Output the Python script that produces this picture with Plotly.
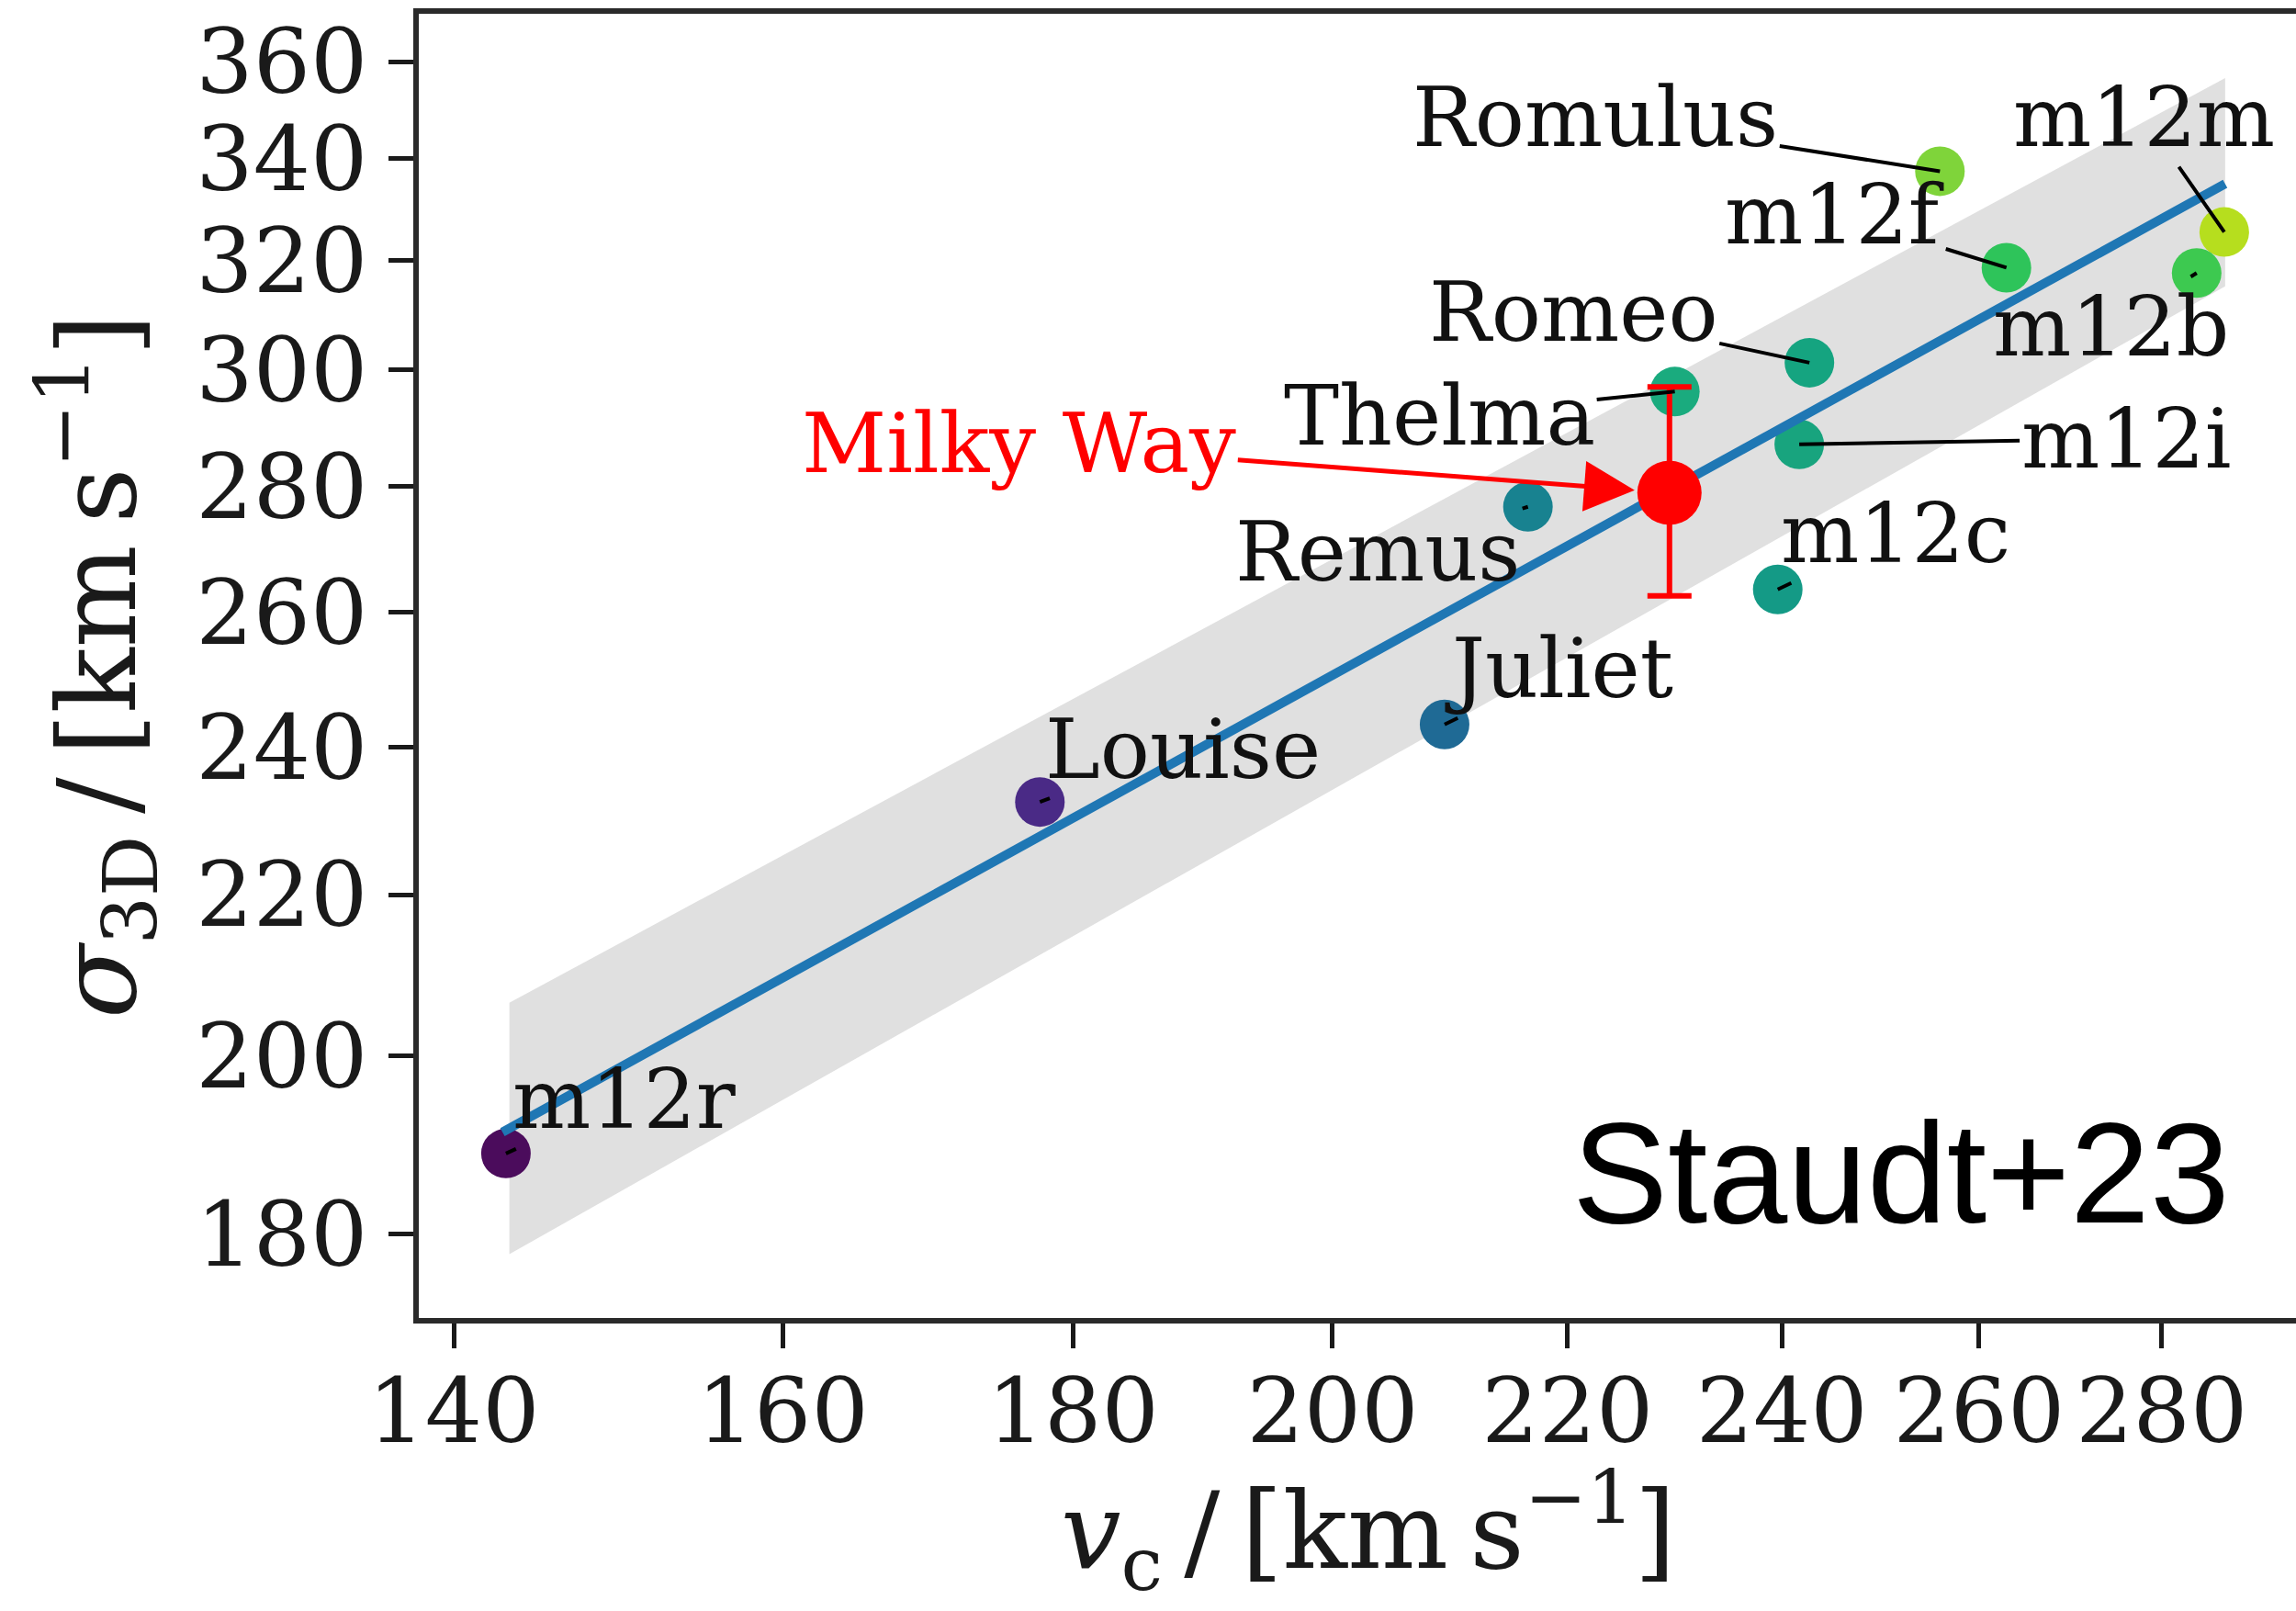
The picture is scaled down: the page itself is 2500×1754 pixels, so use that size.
import math
import plotly.graph_objects as go

# ---------------- data ----------------
names = ["m12r", "Louise", "Juliet", "Remus", "Thelma", "Romeo", "m12i", "m12c",
         "Romulus", "m12f", "m12m", "m12b"]
vc = [143.0, 177.6, 209.3, 216.5, 229.8, 242.7, 241.7, 239.6, 255.9, 262.9, 287.2, 284.0]
sigma3d = [188.8, 232.4, 243.3, 276.7, 296.2, 301.3, 287.1, 263.5, 337.4, 318.7, 325.5, 317.7]
colors = ["#4b0c5c", "#4a2a86", "#1f6a95", "#188290", "#1aab7e", "#15a480", "#18a47e", "#149a86",
          "#7fd43a", "#2ec45a", "#b6de1e", "#3dc950"]
# label offsets (pixels) of each name from its point
label_dx = [129, 156, 125, -163, -256, -257, 356, 128, -375, -187, -87, -93]
label_dy = [-59, -58, -61, 49, 26, -55, -6, -61, -59, -58, -125, 58]

mw_vc = [229.3]
mw_sigma = [279.0]
mw_err_plus = [18.0]
mw_err_minus = [16.5]

fit_vc = [142.8, 287.3]
fit_sigma = [191.2, 334.9]
band_vc = [143.2, 287.3]
band_hi = [206.4, 356.5]
band_lo = [177.9, 315.2]

xticks = [140, 160, 180, 200, 220, 240, 260, 280]
yticks = [180, 200, 220, 240, 260, 280, 300, 320, 340, 360]

# ---------------- figure ----------------
W, H = 2500, 1754
L, R, T, B = 456, 0, 15, 319
SERIF = "DejaVu Serif"
INK = "#1a1a1a"
TS = "\u2009"  # thin space

fig = go.Figure()

# shaded band
fig.add_trace(go.Scatter(
    x=band_vc + band_vc[::-1], y=band_hi + band_lo[::-1],
    fill="toself", fillcolor="#e0e0e0", line=dict(width=0),
    mode="lines", hoverinfo="skip", showlegend=False))

# simulated galaxies
fig.add_trace(go.Scatter(
    x=vc, y=sigma3d, mode="markers",
    marker=dict(size=54, color=colors, line=dict(width=0)),
    text=names, showlegend=False))

# fit line
fig.add_trace(go.Scatter(
    x=fit_vc, y=fit_sigma, mode="lines",
    line=dict(color="#1f77b4", width=10), showlegend=False))

# Milky Way
fig.add_trace(go.Scatter(
    x=mw_vc, y=mw_sigma, mode="markers",
    marker=dict(size=70, color="#ff0000"),
    error_y=dict(type="data", symmetric=False, array=mw_err_plus, arrayminus=mw_err_minus,
                 color="#ff0000", thickness=6, width=24),
    showlegend=False))

annotations = []
for n, x, y, dx, dy in zip(names, vc, sigma3d, label_dx, label_dy):
    annotations.append(dict(
        x=math.log10(x), y=math.log10(y), xref="x", yref="y",
        text=n, ax=dx, ay=dy, showarrow=True, arrowhead=0, arrowwidth=4,
        arrowcolor="#000000", standoff=0, startstandoff=0,
        font=dict(family=SERIF, size=90, color="#111111")))

annotations.append(dict(
    x=math.log10(mw_vc[0]), y=math.log10(mw_sigma[0]), xref="x", yref="y",
    text="Milky Way", ax=-708, ay=-54, showarrow=True, arrowhead=2, arrowsize=2.2,
    arrowwidth=5, arrowcolor="#ff0000", standoff=38,
    font=dict(family=SERIF, size=90, color="#ff0000")))

annotations.append(dict(
    x=(2430 - L) / (W - L - R), y=(H - B - 1277) / (H - B - T), xref="paper", yref="paper",
    xanchor="right", yanchor="middle", showarrow=False, text="Staudt+23",
    font=dict(family="Liberation Sans", size=156, color="#000000")))

# axis titles
annotations.append(dict(
    x=(1490 - L) / (W - L - R), y=(H - B - 1752) / (H - B - T), xref="paper", yref="paper",
    xanchor="center", yanchor="bottom", showarrow=False,
    text="<i>v</i><sub>c</sub>" + TS + "/" + TS + "[km" + TS + "s<sup>−1</sup>]",
    font=dict(family=SERIF, size=116, color=INK)))
annotations.append(dict(
    x=(105 - L) / (W - L - R), y=0.5, xref="paper", yref="paper",
    xanchor="center", yanchor="middle", showarrow=False, textangle=-90,
    text="<i>σ</i><sub>3D</sub>" + TS + "/" + TS + "[km" + TS + "s<sup>−1</sup>]",
    font=dict(family=SERIF, size=118, color=INK)))

fig.update_layout(
    width=W, height=H, margin=dict(l=L, r=R, t=T, b=B, pad=0),
    paper_bgcolor="white", plot_bgcolor="white",
    annotations=annotations, showlegend=False,
    xaxis=dict(type="log", range=[2.139977, 2.470827], tickvals=xticks,
               ticktext=[str(v) for v in xticks], ticks="outside", ticklen=27, tickwidth=5,
               tickcolor=INK, showline=True, linewidth=6, linecolor="#2a2a2a", mirror=True,
               showgrid=False, zeroline=False, automargin=False, ticklabelstandoff=-16,
               tickfont=dict(family=SERIF, size=98, color=INK)),
    yaxis=dict(type="log", range=[2.233768, 2.568563], tickvals=yticks,
               ticktext=[str(v) for v in yticks], ticks="outside", ticklen=27, tickwidth=5,
               tickcolor=INK, showline=True, linewidth=6, linecolor="#2a2a2a", mirror=False,
               showgrid=False, zeroline=False, automargin=False, ticklabelstandoff=3,
               tickfont=dict(family=SERIF, size=98, color=INK)),
)

fig.write_html("out.html")
